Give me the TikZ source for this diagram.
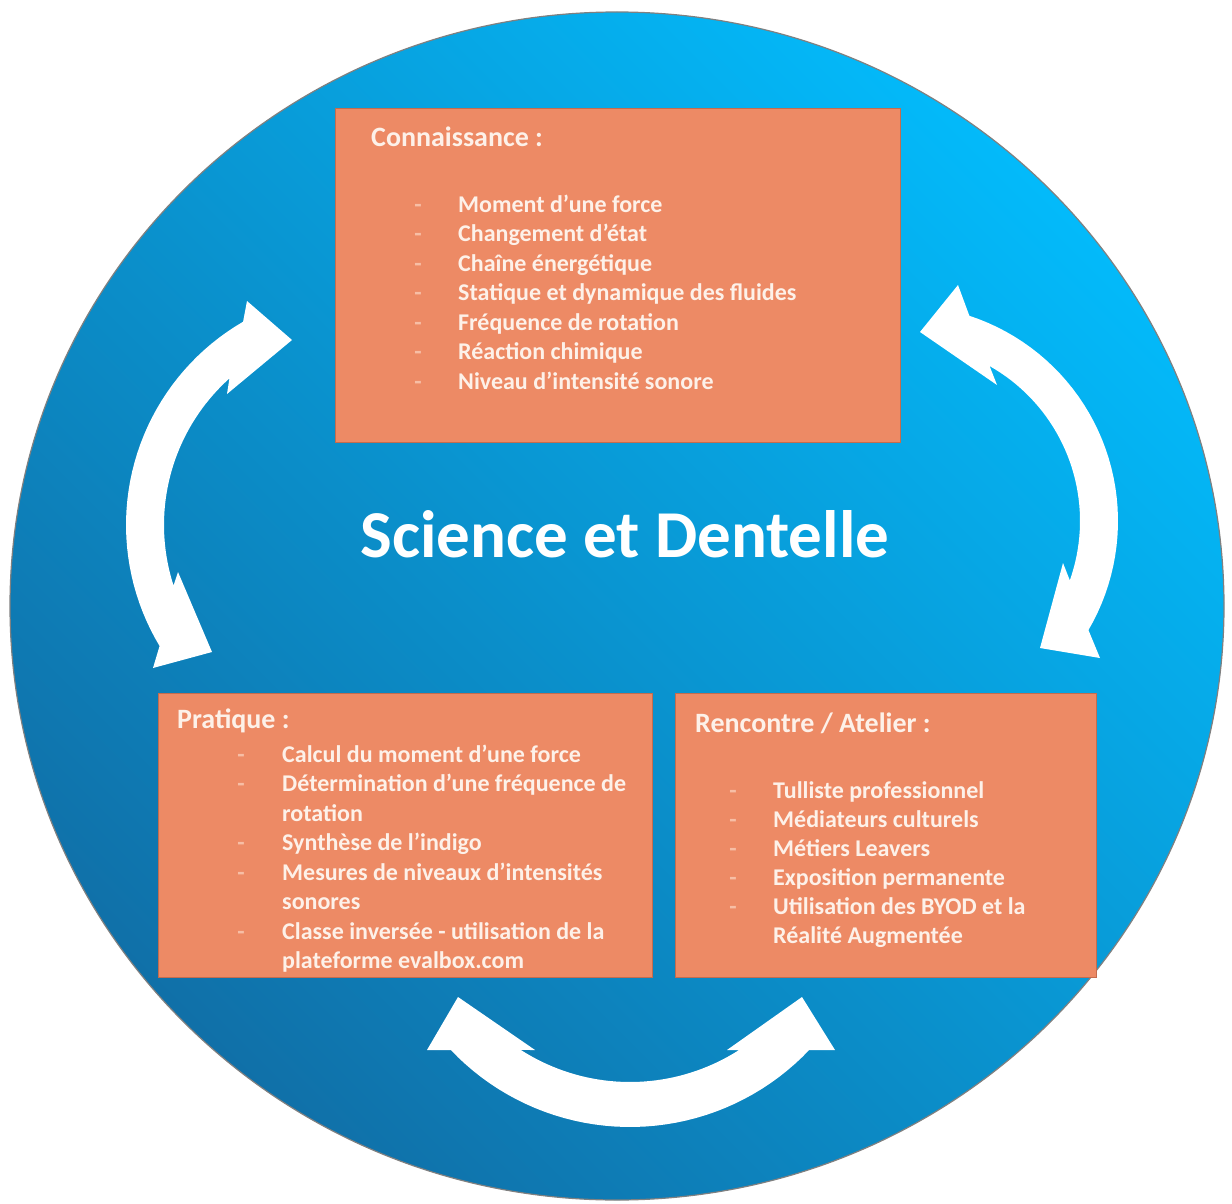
\documentclass[tikz,border=0pt]{standalone}
\usepackage{fontspec}
\setmainfont{Carlito}
\definecolor{bgdark}{RGB}{16,112,168}
\definecolor{bglight}{RGB}{3,186,250}
\definecolor{boxfill}{RGB}{237,138,101}
\definecolor{boxedge}{RGB}{196,108,78}
\definecolor{txt}{RGB}{253,241,233}
\definecolor{dashc}{RGB}{247,190,165}
\begin{document}
\begin{tikzpicture}[x=1pt,y=-1pt,
  box/.style={draw=boxedge, line width=1pt, fill=boxfill, inner sep=0pt, anchor=north west},
  hdr/.style={anchor=base west, inner sep=0pt, text=txt, font=\fontsize{28}{34}\selectfont\bfseries},
  item/.style={anchor=base west, inner sep=0pt, text=txt, font=\fontsize{24}{29}\selectfont\bfseries},
  dashmark/.style={anchor=base, inner sep=0pt, text=dashc, font=\fontsize{24}{29}\selectfont\bfseries},
  titlestyle/.style={anchor=base, inner sep=0pt, text=white, font=\fontsize{67}{80}\selectfont\bfseries},
  arrowfill/.style={fill=white}]
\useasboundingbox (0,0) rectangle (1232,1204);
\fill[white] (0,0) rectangle (1232,1204);
% big disc
\shade[top color=bglight, bottom color=bgdark, shading angle=-45] (617,606) ellipse[x radius=607, y radius=594];
\draw[black!50, line width=1.2pt] (617,606) ellipse[x radius=607, y radius=594];

% boxes
\node[box, minimum width=565pt, minimum height=334pt] (know) at (335,108) {};
\node[box, minimum width=494pt, minimum height=284pt] (prat) at (158,693) {};
\node[box, minimum width=421pt, minimum height=284pt] (renc) at (675,693) {};

% title
\node[titlestyle] (title) at (625,557) {Science et Dentelle};

% Connaissance
\node[hdr] (kh) at (371,147) {Connaissance :};
\foreach \i/\t in {0/{Moment d’une force},1/{Changement d’état},2/{Chaîne énergétique},3/{Statique et dynamique des fluides},4/{Fréquence de rotation},5/{Réaction chimique},6/{Niveau d’intensité sonore}}{
  \node[dashmark] (kd\i) at (418,212+29.5*\i) {-};
  \node[item] (ki\i) at (458,212+29.5*\i) {\t};
}

% Pratique
\node[hdr] (ph) at (177,728) {Pratique :};
\begin{scope}
\clip (158.5,693.5) rectangle (651.5,972);
\foreach \i/\t in {0/{Calcul du moment d’une force},1/{Détermination d’une fréquence de},2/{rotation},3/{Synthèse de l’indigo},4/{Mesures de niveaux d’intensités},5/{sonores},6/{Classe inversée - utilisation de la},7/{plateforme evalbox.com}}{
  \node[item] (pi\i) at (282,762+29.5*\i) {\t};
}
\foreach \i in {0,1,3,4,6}{
  \node[dashmark] (pd\i) at (241,762+29.5*\i) {-};
}
\end{scope}

% Rencontre
\node[hdr] (rh) at (695,732) {Rencontre / Atelier :};
\foreach \i/\t in {0/{Tulliste professionnel},1/{Médiateurs culturels},2/{Métiers Leavers},3/{Exposition permanente},4/{Utilisation des BYOD et la}}{
  \node[dashmark] (rd\i) at (733,798+29*\i) {-};
  \node[item] (ri\i) at (773,798+29*\i) {\t};
}
\node[item] (ri5) at (773,943) {Réalité Augmentée};

% left arrow
\fill[arrowfill] (247,301) -- (292,340) -- (227,394)
 -- plot[variable=\t, domain=0:1, samples=40] ({361+197*cos(228.1-66*\t)},{525+197*sin(228.1-66*\t)})
 -- (178,572) -- (212,652) -- (153,668)
 -- plot[variable=\t, domain=0:1, samples=40] ({361+235*cos(149+90.9*\t)},{525+235*sin(149+90.9*\t)})
 -- cycle;
% right arrow
\fill[arrowfill] (958,285) -- (920,332) -- (997,385)
 -- plot[variable=\t, domain=0:1, samples=40] ({902+178*cos(299.48+80.01*\t)},{521+178*sin(299.48+80.01*\t)})
 -- (1063,563) -- (1040,648) -- (1100,658)
 -- plot[variable=\t, domain=0:1, samples=40] ({902+216*cos(30.33-102.18*\t)},{521+216*sin(30.33-102.18*\t)})
 -- cycle;
% bottom arrow
\fill[arrowfill] (427,1050) -- (458,997) -- (535,1050)
 -- plot[variable=\t, domain=0:1, samples=40] ({630+202*cos(122.7-65.4*\t)},{880+202*sin(122.7-65.4*\t)})
 -- (727,1050) -- (802,997) -- (835,1050)
 -- plot[variable=\t, domain=0:1, samples=40] ({630+247*cos(43.5+93*\t)},{880+247*sin(43.5+93*\t)})
 -- cycle;
\end{tikzpicture}
\end{document}
